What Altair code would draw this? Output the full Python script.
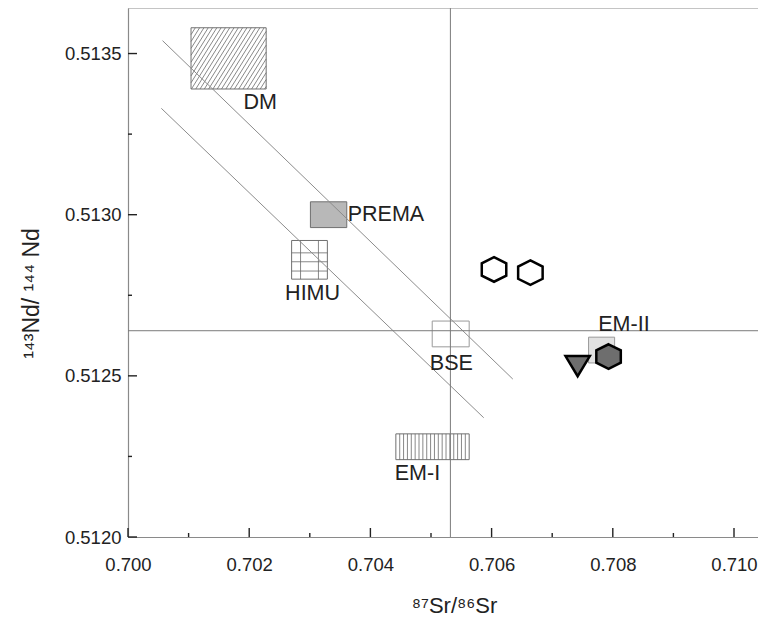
import altair as alt
import pandas as pd
import numpy as np

# ---------------- data ----------------
X_DOMAIN = [0.700, 0.710396]
Y_DOMAIN = [0.5120, 0.5136413]

region_names = ["DM", "PREMA", "HIMU", "BSE", "EM-I", "EM-II"]
region_x0 = [0.70104, 0.70301, 0.70270, 0.70502, 0.70442, 0.70760]
region_x1 = [0.70228, 0.70361, 0.70329, 0.70563, 0.70563, 0.70803]
region_y0 = [0.51339, 0.51296, 0.51280, 0.51259, 0.51224, 0.51254]
region_y1 = [0.51358, 0.51304, 0.51292, 0.51267, 0.51232, 0.51262]
region_fill = ["transparent", "#b8b8b8", "transparent", "transparent", "transparent", "#e2e2e2"]
region_stroke = ["#707070", "#707070", "#707070", "#9a9a9a", "#707070", "#9a9a9a"]

label_x = [0.701906, 0.703626, 0.703046, 0.705336, 0.704402, 0.707760]
label_y = [0.513346, 0.512998, 0.512754, 0.512536, 0.512195, 0.512659]
label_align = ["left", "left", "center", "center", "left", "left"]

# mixing lines (mantle array)
diag_x0 = [0.70057, 0.70055]
diag_y0 = [0.51354, 0.51333]
diag_x1 = [0.70635, 0.70587]
diag_y1 = [0.51249, 0.51237]

# bulk silicate earth reference
bse_sr = 0.70532
bse_nd = 0.51264

# samples
sample_x = [0.70604, 0.70664, 0.70793, 0.70742]
sample_y = [0.51283, 0.51282, 0.51256, 0.51253]
sample_kind = ["open hex", "open hex", "filled hex", "triangle"]

x_major = [0.700, 0.702, 0.704, 0.706, 0.708, 0.710]
x_minor = [0.701, 0.703, 0.705, 0.707, 0.709]
y_major = [0.5120, 0.5125, 0.5130, 0.5135]
y_minor = [0.51225, 0.51275, 0.51325]

X_TITLE = "⁸⁷Sr/⁸⁶Sr"
Y_TITLE = "¹⁴³Nd/ ¹⁴⁴ Nd"

# ---------------- layout ----------------
W, H = 630, 529
SX = W / (X_DOMAIN[1] - X_DOMAIN[0])
SY = H / (Y_DOMAIN[1] - Y_DOMAIN[0])
FONT = "Liberation Sans"
AXIS_GRAY = "#8a8a8a"

xs = alt.Scale(domain=X_DOMAIN, nice=False, zero=False)
ys = alt.Scale(domain=Y_DOMAIN, nice=False, zero=False)
xaxis = alt.Axis(values=x_major, format=".3f", ticks=False, grid=False,
                 labelFlush=False, labelOverlap=False,
                 domainColor=AXIS_GRAY, domainWidth=1.2, labelFontSize=18.5,
                 labelColor="#222", labelFont=FONT, labelPadding=18,
                 title=X_TITLE, titleFont=FONT, titleFontSize=22,
                 titleFontWeight="normal", titleColor="#222",
                 titleX=326, titleY=75, titleBaseline="alphabetic")
yaxis = alt.Axis(values=y_major, format=".4f", ticks=False, grid=False,
                 labelFlush=False, labelOverlap=False,
                 domainColor=AXIS_GRAY, domainWidth=1.2, labelFontSize=18.5,
                 labelColor="#222", labelFont=FONT, labelPadding=7,
                 title=Y_TITLE, titleFont=FONT, titleFontSize=23,
                 titleFontWeight="normal", titleColor="#222",
                 titleX=-90, titleY=285, titleAngle=270,
                 titleAlign="center", titleBaseline="alphabetic")

regions = pd.DataFrame({"name": region_names, "x0": region_x0, "x1": region_x1,
                        "y0": region_y0, "y1": region_y1,
                        "fill": region_fill, "stroke": region_stroke})

# pattern lines derived from region extents
segs = []
def add_seg(r, u1, v1, u2, v2):
    segs.append({"sx": r["x0"] + u1 / SX, "sy": r["y0"] + v1 / SY,
                 "ex": r["x0"] + u2 / SX, "ey": r["y0"] + v2 / SY})

for _, r in regions.iterrows():
    bw = (r["x1"] - r["x0"]) * SX
    bh = (r["y1"] - r["y0"]) * SY
    if r["name"] == "DM":
        m, d = 1.6, 4.3
        c = -bh / m + d
        while c < bw:
            u1 = max(c, 0.0)
            u2 = min(bw, c + bh / m)
            if u2 > u1:
                add_seg(r, u1, m * (u1 - c), u2, m * (u2 - c))
            c += d
    elif r["name"] == "EM-I":
        n = 19
        for k in range(1, n):
            u = bw * k / n
            add_seg(r, u, 0, u, bh)
    elif r["name"] == "HIMU":
        for f in [0.25, 0.75]:
            add_seg(r, bw * f, 0, bw * f, bh)
        for f in [0.32, 0.55, 0.79]:
            v = bh * (1 - f)
            add_seg(r, 0, v, bw, v)
segs = pd.DataFrame(segs)

labels = pd.DataFrame({"name": region_names, "lx": label_x, "ly": label_y,
                       "align": label_align})
diag = pd.DataFrame({"x0": diag_x0, "y0": diag_y0, "x1": diag_x1, "y1": diag_y1})
samples = pd.DataFrame({"x": sample_x, "y": sample_y, "kind": sample_kind})

HEX = "M0,-1L1,-0.5L1,0.5L0,1L-1,0.5L-1,-0.5Z"
TRI = "M-1,-0.83L1,-0.83L0,0.83Z"

def X(f):
    return alt.X(f, type="quantitative", scale=xs, axis=xaxis)

def Y(f):
    return alt.Y(f, type="quantitative", scale=ys, axis=yaxis)

rect_layer = alt.Chart(regions).mark_rect(strokeWidth=1).encode(
    x=X("x0"), x2="x1", y=Y("y0"), y2="y1",
    fill=alt.Fill("fill:N", scale=None), stroke=alt.Stroke("stroke:N", scale=None))

pattern_layer = alt.Chart(segs).mark_rule(color="#6a6a6a", strokeWidth=0.8).encode(
    x=X("sx"), y=Y("sy"), x2="ex", y2="ey")

diag_layer = alt.Chart(diag).mark_rule(color="#8c8c8c", strokeWidth=1).encode(
    x=X("x0"), y=Y("y0"), x2="x1", y2="y1")

vline = alt.Chart(pd.DataFrame({"v": [bse_sr]})).mark_rule(color="#7a7a7a", strokeWidth=1).encode(
    x=X("v"), y=alt.value(0), y2=alt.value(H))
hline = alt.Chart(pd.DataFrame({"v": [bse_nd]})).mark_rule(color="#7a7a7a", strokeWidth=1).encode(
    y=Y("v"), x=alt.value(0), x2=alt.value(W))

top_border = alt.Chart(pd.DataFrame({"a": [0]})).mark_rule(color=AXIS_GRAY, strokeWidth=1.2).encode(
    x=alt.value(0), x2=alt.value(W), y=alt.value(0))

tick_color = "#222"
xt_major = alt.Chart(pd.DataFrame({"v": x_major})).mark_rule(color=tick_color, strokeWidth=1.4).encode(
    x=X("v"), y=alt.value(H), y2=alt.value(H - 9))
xt_minor = alt.Chart(pd.DataFrame({"v": x_minor})).mark_rule(color=tick_color, strokeWidth=1.4).encode(
    x=X("v"), y=alt.value(H), y2=alt.value(H - 4))
yt_major = alt.Chart(pd.DataFrame({"v": y_major})).mark_rule(color=tick_color, strokeWidth=1.4).encode(
    y=Y("v"), x=alt.value(0), x2=alt.value(9))
yt_minor = alt.Chart(pd.DataFrame({"v": y_minor})).mark_rule(color=tick_color, strokeWidth=1.4).encode(
    y=Y("v"), x=alt.value(0), x2=alt.value(4))

text_left = alt.Chart(labels).transform_filter(alt.datum.align == "left").mark_text(
    font=FONT, fontSize=21.5, color="#222", align="left", baseline="middle").encode(
    x=X("lx"), y=Y("ly"), text="name:N")
text_center = alt.Chart(labels).transform_filter(alt.datum.align == "center").mark_text(
    font=FONT, fontSize=21.5, color="#222", align="center", baseline="middle").encode(
    x=X("lx"), y=Y("ly"), text="name:N")

open_hex = alt.Chart(samples).transform_filter(alt.datum.kind == "open hex").mark_point(
    shape=HEX, size=600, filled=True, fill="white", stroke="black", strokeWidth=2.5, opacity=1).encode(
    x=X("x"), y=Y("y"))
filled_hex = alt.Chart(samples).transform_filter(alt.datum.kind == "filled hex").mark_point(
    shape=HEX, size=600, filled=True, fill="#6e6e6e", stroke="black", strokeWidth=2.5, opacity=1).encode(
    x=X("x"), y=Y("y"))
tri = alt.Chart(samples).transform_filter(alt.datum.kind == "triangle").mark_point(
    shape=TRI, size=590, filled=True, fill="#6e6e6e", stroke="black", strokeWidth=2.5, opacity=1).encode(
    x=X("x"), y=Y("y"))

chart = alt.layer(
    rect_layer, pattern_layer, diag_layer, vline, hline, top_border,
    xt_major, xt_minor, yt_major, yt_minor,
    text_left, text_center, open_hex, filled_hex, tri
).properties(
    width=W, height=H,
    autosize=alt.AutoSizeParams(type="none"),
    padding={"left": 120, "top": 0, "right": 0, "bottom": 80},
    background="white"
).configure_view(stroke="transparent", strokeWidth=0)

chart.save("out.html", embed_options={"renderer": "svg", "actions": False})
